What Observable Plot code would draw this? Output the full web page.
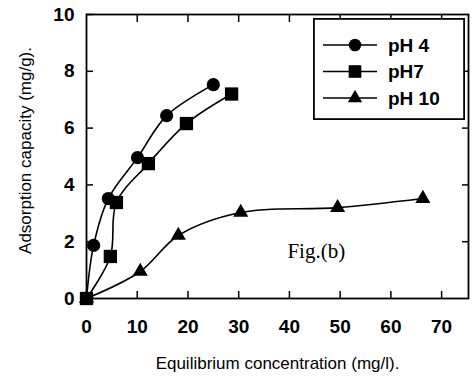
<!DOCTYPE html>
<html>
<head>
<meta charset="utf-8">
<script src="https://cdn.jsdelivr.net/npm/d3@7"></script>
<script src="https://cdn.jsdelivr.net/npm/@observablehq/plot@0.6"></script>
<style>
  html, body { margin: 0; padding: 0; background: #fff; }
  #wrap { position: relative; width: 475px; height: 377px; overflow: hidden; }
  #legend { position: absolute; }
</style>
</head>
<body>
<div id="wrap"></div>
<script>
// ---- data ----
const seriesNames = ["pH 4", "pH7", "pH 10"];
const seriesSymbols = ["circle", "square", "triangle"];
const symbolR = [6.6, 7.5, 5.6];
const ph4X = [0, 1.4, 4.3, 10.05, 15.8, 25.0];
const ph4Y = [0, 1.87, 3.52, 4.96, 6.44, 7.53];
const ph7X = [0, 4.7, 5.9, 12.2, 19.7, 28.6];
const ph7Y = [0, 1.48, 3.38, 4.75, 6.16, 7.2];
const ph10X = [0, 10.6, 18.1, 30.4, 49.5, 66.3];
const ph10Y = [0, 0.95, 2.22, 3.03, 3.2, 3.52];
const xTicks = [0, 10, 20, 30, 40, 50, 60, 70];
const yTicks = [0, 2, 4, 6, 8, 10];
const xLabel = "Equilibrium concentration (mg/l).";
const yLabel = "Adsorption capacity (mg/g).";
const annotation = [{x: 45.3, y: 1.65, text: "Fig.(b)"}];

const seriesX = [ph4X, ph7X, ph10X];
const seriesY = [ph4Y, ph7Y, ph10Y];
const data = [];
seriesNames.forEach((name, i) => {
  seriesX[i].forEach((x, j) => data.push({series: name, x, y: seriesY[i][j], idx: i}));
});

const W = 475, H = 377;
const tickFont = "Liberation Sans, Arial, sans-serif";

const dotMarks = seriesNames.map((name, i) =>
  Plot.dot(data.filter(d => d.series === name), {x: "x", y: "y", symbol: () => seriesSymbols[i],
    r: symbolR[i], fill: "#000", stroke: "none"})
);

const chart = Plot.plot({
  width: W,
  height: H,
  marginLeft: 86,
  marginRight: 7,
  marginTop: 14,
  marginBottom: 79,
  style: {background: "#fff", color: "#000", fontFamily: tickFont},
  x: {domain: [0, 75.3]},
  y: {domain: [0, 10]},
  symbol: {domain: seriesSymbols, range: seriesSymbols},
  marks: [
    Plot.frame({stroke: "#000", strokeWidth: 1.8}),
    Plot.axisX(xTicks, {anchor: "bottom", tickSize: -7, tickPadding: 27.5, strokeWidth: 1.5,
      fontSize: 19, fontWeight: "bold", label: null, tickFormat: d => String(d)}),
    Plot.axisX(xTicks.filter(d => d > 0), {anchor: "top", tickSize: -7, strokeWidth: 1.5,
      tickFormat: () => "", label: null}),
    Plot.axisY(yTicks, {anchor: "left", tickSize: -7, tickPadding: 19, strokeWidth: 1.5,
      fontSize: 19, fontWeight: "bold", label: null, tickFormat: d => String(d)}),
    Plot.axisY(yTicks.filter(d => d > 0 && d < 10), {anchor: "right", tickSize: -7, strokeWidth: 1.5,
      tickFormat: () => "", label: null}),
    Plot.text([xLabel], {text: d => d, frameAnchor: "bottom", dy: 65, lineAnchor: "middle",
      textAnchor: "middle", fontSize: 17, fill: "#000", style: "letter-spacing:1px"}),
    Plot.text([yLabel], {text: d => d, frameAnchor: "left", rotate: -90, dx: -61, dy: -6,
      lineAnchor: "middle", textAnchor: "middle", fontSize: 17, fill: "#000", style: "letter-spacing:0.3px"}),
    Plot.line(data, {x: "x", y: "y", z: "series", curve: "catmull-rom", stroke: "#000", strokeWidth: 1.6}),
    ...dotMarks,
    Plot.text(annotation, {x: "x", y: "y", text: "text", fontSize: 21,
      fontFamily: "Liberation Serif, Times New Roman, serif", fill: "#000"})
  ]
});
document.getElementById("wrap").appendChild(chart);

// ---- legend ----
const legendW = 152, legendH = 102, rowH = 26.5;
const leg = d3.select("#wrap").append("svg")
  .attr("id", "legend")
  .attr("width", legendW).attr("height", legendH)
  .style("left", "313px").style("top", "18px");
leg.append("rect").attr("x", 0.9).attr("y", 0.9)
  .attr("width", legendW - 1.8).attr("height", legendH - 1.8)
  .attr("fill", "#fff").attr("stroke", "#000").attr("stroke-width", 1.8);
const symMap = {circle: d3.symbolCircle, square: d3.symbolSquare, triangle: d3.symbolTriangle};
seriesNames.forEach((name, i) => {
  const cy = 27 + i * rowH;
  const g = leg.append("g").attr("transform", `translate(0,${cy})`);
  g.append("line").attr("x1", 10).attr("x2", 64).attr("y1", 0).attr("y2", 0)
    .attr("stroke", "#000").attr("stroke-width", 1.6);
  const r = symbolR[i] * 0.95;
  g.append("path").attr("transform", "translate(42,0)")
    .attr("d", d3.symbol(symMap[seriesSymbols[i]], Math.PI * r * r)())
    .attr("fill", "#000");
  g.append("text").attr("x", 75).attr("y", 0).attr("dy", "0.35em")
    .attr("font-family", tickFont).attr("font-weight", "bold").attr("font-size", 19)
    .text(name);
});
</script>
</body>
</html>
